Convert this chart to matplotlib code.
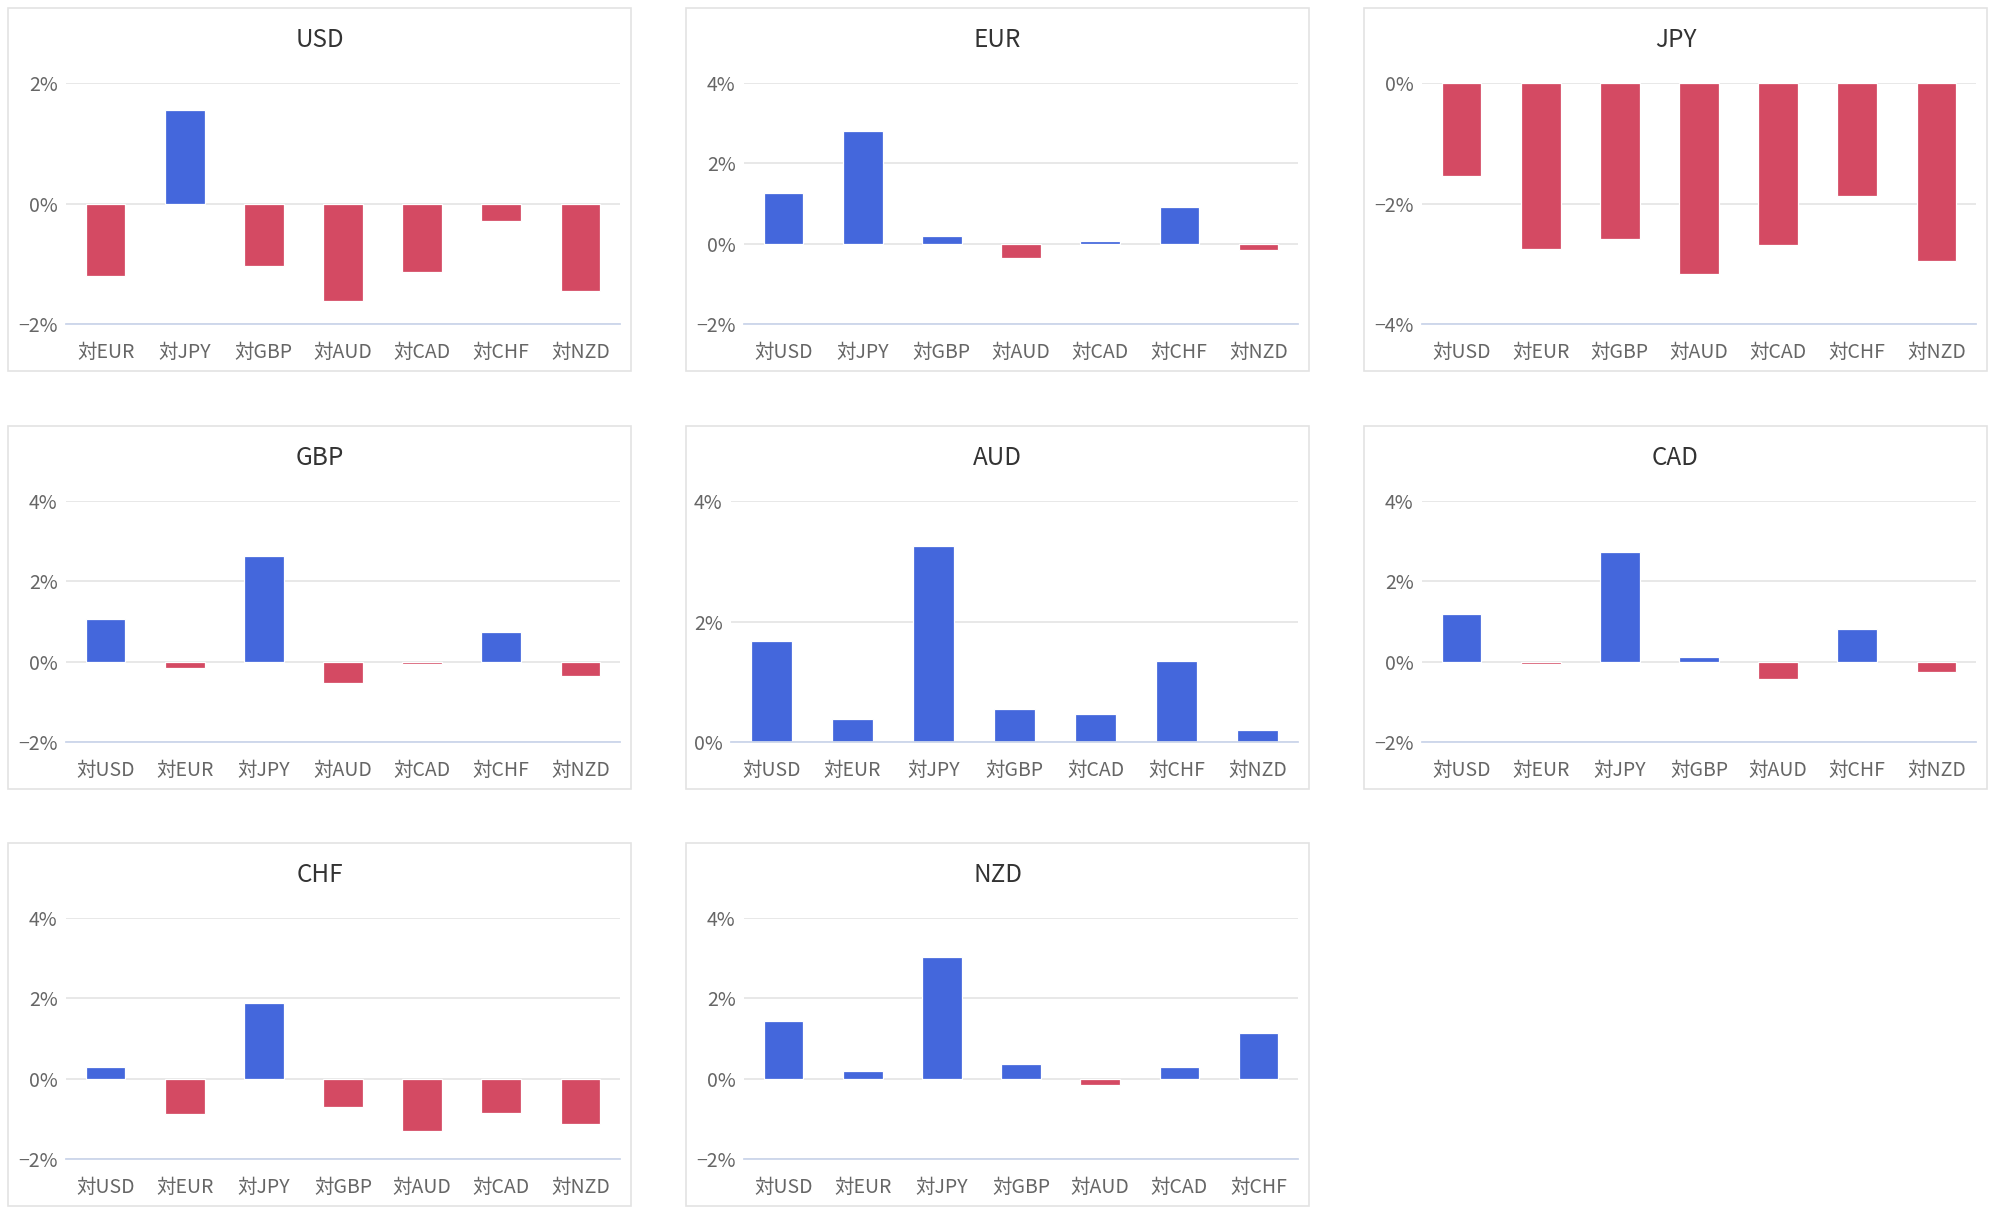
import matplotlib
matplotlib.use("Agg")
import matplotlib.pyplot as plt
from matplotlib.patches import Rectangle
from matplotlib.ticker import FuncFormatter

plt.rcParams['font.family'] = ['Noto Sans CJK JP', 'DejaVu Sans']

# ---- data (percent change) ----
titles = ["USD", "EUR", "JPY", "GBP", "AUD", "CAD", "CHF", "NZD"]

usd_labels = ["対EUR", "対JPY", "対GBP", "対AUD", "対CAD", "対CHF", "対NZD"]
usd_values = [-1.21, 1.55, -1.03, -1.62, -1.14, -0.29, -1.45]

eur_labels = ["対USD", "対JPY", "対GBP", "対AUD", "対CAD", "対CHF", "対NZD"]
eur_values = [1.26, 2.81, 0.20, -0.35, 0.06, 0.91, -0.17]

jpy_labels = ["対USD", "対EUR", "対GBP", "対AUD", "対CAD", "対CHF", "対NZD"]
jpy_values = [-1.55, -2.75, -2.59, -3.17, -2.69, -1.87, -2.96]

gbp_labels = ["対USD", "対EUR", "対JPY", "対AUD", "対CAD", "対CHF", "対NZD"]
gbp_values = [1.05, -0.16, 2.64, -0.52, -0.07, 0.73, -0.35]

aud_labels = ["対USD", "対EUR", "対JPY", "対GBP", "対CAD", "対CHF", "対NZD"]
aud_values = [1.67, 0.38, 3.25, 0.55, 0.46, 1.34, 0.20]

cad_labels = ["対USD", "対EUR", "対JPY", "対GBP", "対AUD", "対CHF", "対NZD"]
cad_values = [1.18, -0.07, 2.73, 0.11, -0.44, 0.82, -0.25]

chf_labels = ["対USD", "対EUR", "対JPY", "対GBP", "対AUD", "対CAD", "対NZD"]
chf_values = [0.28, -0.89, 1.88, -0.71, -1.30, -0.85, -1.12]

nzd_labels = ["対USD", "対EUR", "対JPY", "対GBP", "対AUD", "対CAD", "対CHF"]
nzd_values = [1.44, 0.20, 3.04, 0.37, -0.17, 0.28, 1.13]

y_ticks = [
    [-2, 0, 2],
    [-2, 0, 2, 4],
    [-4, -2, 0],
    [-2, 0, 2, 4],
    [0, 2, 4],
    [-2, 0, 2, 4],
    [-2, 0, 2, 4],
    [-2, 0, 2, 4],
]

all_labels = [usd_labels, eur_labels, jpy_labels, gbp_labels,
              aud_labels, cad_labels, chf_labels, nzd_labels]
all_values = [usd_values, eur_values, jpy_values, gbp_values,
              aud_values, cad_values, chf_values, nzd_values]

# ---- style ----
POS_COLOR = "#4467DC"
NEG_COLOR = "#D44A63"
GRID_COLOR = "#e6e6e6"
AXIS_COLOR = "#ccd6eb"
LABEL_COLOR = "#666666"
TITLE_COLOR = "#333333"
BORDER_COLOR = "#e3e3e3"

W, H = 1998, 1220
fig = plt.figure(figsize=(W / 100, H / 100), dpi=100)
fig.patch.set_facecolor("white")

col_x = [8, 686, 1364]
row_y = [8, 426, 843]
PW, PH = 623, 363


def fmt(v, _):
    v = int(round(v))
    if v < 0:
        return "\u2212%d%%" % (-v)
    return "%d%%" % v


for i, (title, labels, values, ticks) in enumerate(zip(titles, all_labels, all_values, y_ticks)):
    r, c = divmod(i, 3)
    px, py = col_x[c], row_y[r]
    # panel border
    fig.patches.append(Rectangle((px / W, 1 - (py + PH) / H), PW / W, PH / H,
                                 transform=fig.transFigure, fill=False,
                                 edgecolor=BORDER_COLOR, linewidth=1.2))
    # title
    fig.text((px + PW / 2) / W, 1 - (py + 32) / H, title, ha="center", va="center",
             fontsize=17.5, color=TITLE_COLOR)
    # axes (narrower labels -> wider plot area)
    has_neg = ticks[0] < 0
    left = px + (58 if has_neg else 45)
    right = px + PW - 11
    top = py + 75
    bottom = py + 316
    ax = fig.add_axes([left / W, 1 - bottom / H, (right - left) / W, (bottom - top) / H])
    x = list(range(len(labels)))
    colors = [POS_COLOR if v >= 0 else NEG_COLOR for v in values]
    ax.bar(x, values, width=0.5, color=colors, edgecolor="white", linewidth=0.9, zorder=3)
    ax.set_xlim(-0.5, len(labels) - 0.5)
    ax.set_ylim(ticks[0], ticks[-1])
    ax.set_yticks(ticks)
    ax.yaxis.set_major_formatter(FuncFormatter(fmt))
    ax.set_xticks(x)
    ax.set_xticklabels(labels)
    ax.grid(axis="y", color=GRID_COLOR, linewidth=1.3, zorder=0)
    ax.set_axisbelow(True)
    for s in ["top", "right", "left"]:
        ax.spines[s].set_visible(False)
    ax.spines["bottom"].set_color(AXIS_COLOR)
    ax.spines["bottom"].set_linewidth(1.3)
    ax.spines["bottom"].set_zorder(4)
    ax.tick_params(axis="both", length=0, colors=LABEL_COLOR, labelsize=14)
    ax.tick_params(axis="x", pad=13)
    ax.tick_params(axis="y", pad=6)
    ax.set_facecolor("none")

fig.savefig("out.png", dpi=100, facecolor="white")
